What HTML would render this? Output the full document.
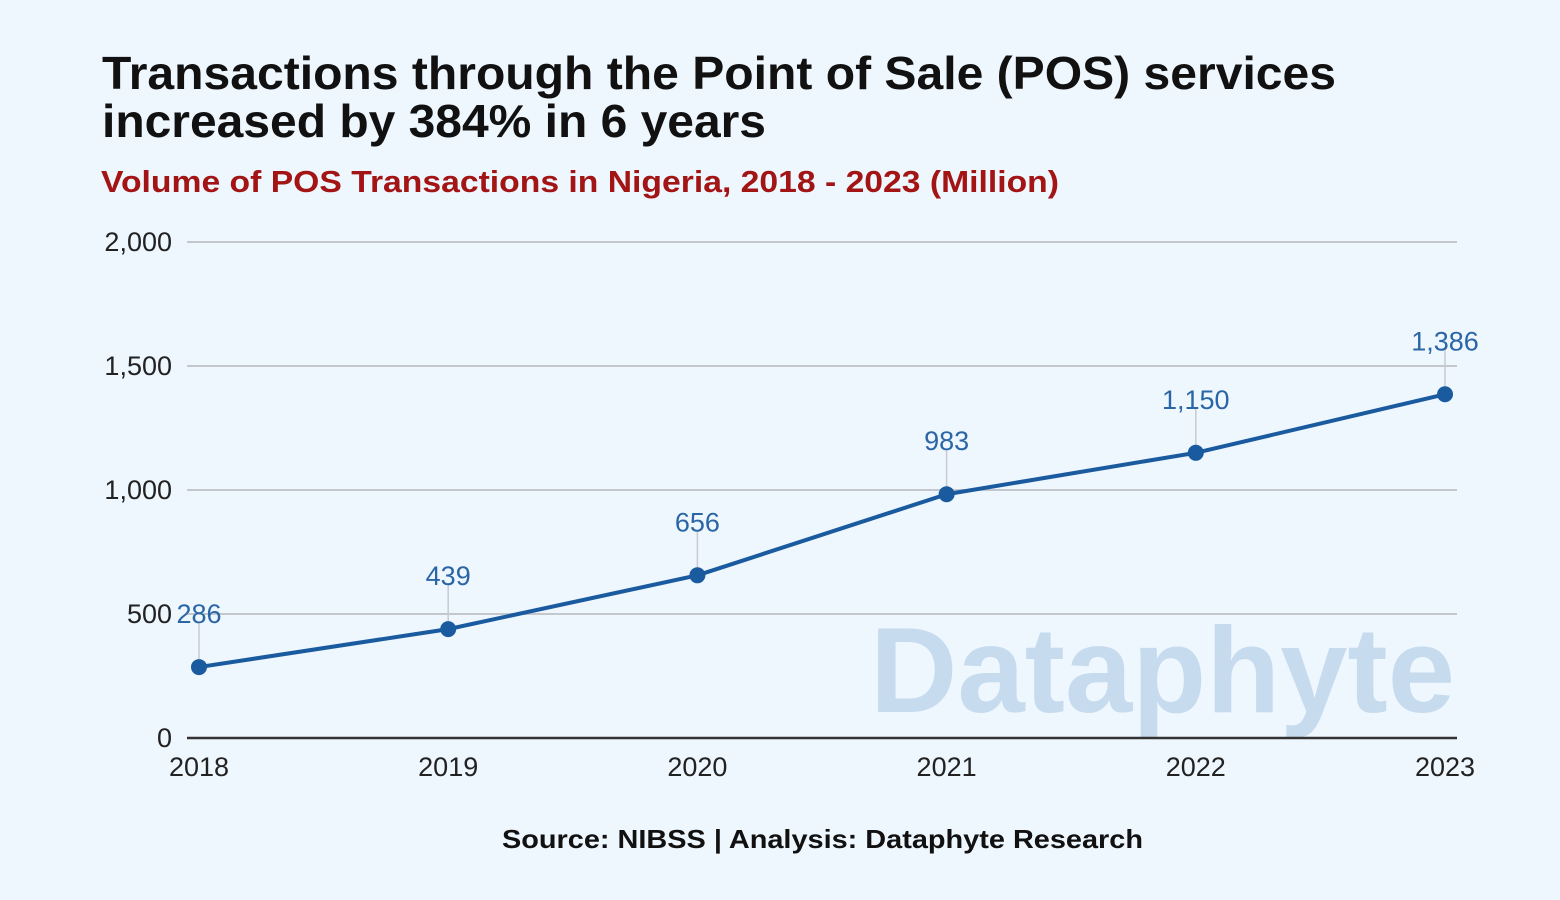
<!DOCTYPE html>
<html><head><meta charset="utf-8"><style>
html,body{margin:0;padding:0;background:#eef6fe;}
svg{display:block;font-family:"Liberation Sans",sans-serif;}
</style></head><body>
<svg width="1560" height="900" viewBox="0 0 1560 900">
<rect width="1560" height="900" fill="#eef6fe"/>
<text x="102" y="89" font-size="46" font-weight="bold" fill="#111" textLength="1234" lengthAdjust="spacingAndGlyphs">Transactions through the Point of Sale (POS) services</text>
<text x="102" y="137" font-size="46" font-weight="bold" fill="#111" textLength="664" lengthAdjust="spacingAndGlyphs">increased by 384% in 6 years</text>
<text x="101" y="192" font-size="31" font-weight="bold" fill="#a31515" textLength="958" lengthAdjust="spacingAndGlyphs">Volume of POS Transactions in Nigeria, 2018 - 2023 (Million)</text>
<text x="870" y="712" font-size="122" font-weight="bold" fill="#c7dbee" textLength="585" lengthAdjust="spacingAndGlyphs">Dataphyte</text>
<g id="grid"></g>
<g id="marks"></g>
<text x="502" y="848" font-size="26" font-weight="bold" fill="#111" textLength="641" lengthAdjust="spacingAndGlyphs">Source: NIBSS | Analysis: Dataphyte Research</text>
</svg>
<script>
const categories=["2018","2019","2020","2021","2022","2023"];
const values=[286,439,656,983,1150,1386];
const valueLabels=["286","439","656","983","1,150","1,386"];
const yTicks=[0,500,1000,1500,2000];
const yTickLabels=["0","500","1,000","1,500","2,000"];
const NS="http://www.w3.org/2000/svg";
const x=i=>199+i*249.2;
const y=v=>738-v*0.248;
function mk(t,a,p){const e=document.createElementNS(NS,t);for(const k in a)e.setAttribute(k,a[k]);p.appendChild(e);return e;}
const g=document.getElementById('grid'),m=document.getElementById('marks');
yTicks.forEach((t,i)=>{
 const l=mk('line',{x1:187,x2:1457,y1:y(t),y2:y(t),stroke:t===0?'#333':'#c4c8cc','stroke-width':t===0?2.5:2},g);
 
 
 const tx=mk('text',{x:172,y:y(t)+9,'font-size':27,fill:'#222','text-anchor':'end'},g);
 tx.textContent=yTickLabels[i];
 
 
});
categories.forEach((c,i)=>{
 const tx=mk('text',{x:x(i),y:776,'font-size':27,fill:'#222','text-anchor':'middle'},g);
 tx.textContent=c;
 
 
});
const pl=mk('polyline',{points:values.map((v,i)=>x(i)+','+y(v)).join(' '),fill:'none',stroke:'#1a5a9e','stroke-width':4,'stroke-linejoin':'round'},m);


values.forEach((v,i)=>{
 const ld=mk('line',{x1:x(i),x2:x(i),y1:y(v)-44,y2:y(v)-8,stroke:'#c8ccd0','stroke-width':1.5},m);
 
 
 const c=mk('circle',{cx:x(i),cy:y(v),r:8,fill:'#1a5a9e'},m);
 
 
 const t=mk('text',{x:x(i),y:y(v)-44,'font-size':27,fill:'#2a66a6','text-anchor':'middle'},m);
 t.textContent=valueLabels[i];
 
 
});
</script>
</body></html>
